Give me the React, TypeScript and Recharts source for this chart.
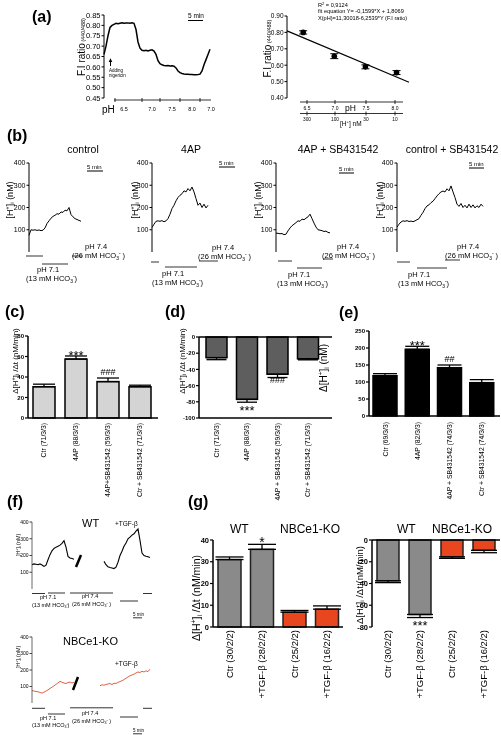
import React from 'react';
import { LineChart, Line, XAxis, YAxis, BarChart, Bar, ErrorBar, ComposedChart, Scatter, ReferenceLine } from 'recharts';

const FONT = '"Liberation Sans", Arial, Helvetica, sans-serif';

// ---------- (a) calibration ----------
const nigericinRatio = [0.66,0.70,0.75,0.79,0.80,0.805,0.81,0.808,0.81,0.812,0.81,0.811,0.812,0.81,0.812,0.81,0.78,0.72,0.69,0.68,0.678,0.68,0.677,0.68,0.682,0.676,0.66,0.63,0.615,0.61,0.607,0.605,0.606,0.604,0.605,0.603,0.595,0.58,0.572,0.568,0.566,0.565,0.564,0.563,0.563,0.562,0.562,0.563,0.565,0.58,0.61,0.635,0.66,0.685];
const ratioTicks = [0.45,0.5,0.55,0.6,0.65,0.7,0.75,0.8,0.85];
const calibPH = [6.5, 7.0, 7.5, 8.0];
const calibRatio = [0.80, 0.655, 0.59, 0.555];
const calibErr = [0.01, 0.015, 0.012, 0.012];
const fitPH = [6.24, 8.2];
const fitRatio = [0.809, 0.496];
const calibTicks = [0.4,0.5,0.6,0.7,0.8,0.9];
const phSegLabels = ['6.5','7.0','7.5','8.0','7.0'];
const phAxisLabels = ['6.5','7.0','7.5','8.0'];
const hAxisLabels = ['300','100','30','10'];

// ---------- (b) traces [H+]i (nM) ----------
const ctrlTrace = [75,100,98,100,97,99,96,98,108,128,140,152,160,165,172,170,180,178,188,185,200,168,158,150,146,142,138];
const apTrace = [110,125,138,140,138,141,136,140,150,170,195,210,230,245,255,262,275,270,285,275,292,270,240,210,220,200,215,198,210];
const apSbTrace = [85,84,82,83,78,80,95,108,118,125,132,140,138,148,145,152,158,170,150,130,112,100,98,96,92,94,88,86];
const ctrlSbTrace = [112,125,135,140,138,141,137,139,136,140,145,150,165,178,195,207,212,222,228,240,252,262,270,274,270,284,275,297,270,245,215,205,218,200,210,198,215,200,212,198,208,200,215,205];
const hTicks = [100,200,300,400];
const bTitles = ['control','4AP','4AP + SB431542','control + SB431542'];

// ---------- (c) (d) (e) ----------
const cLabels = ['Ctr (71/3/3)','4AP (88/3/3)','4AP+SB431542 (59/3/3)','Ctr + SB431542 (71/3/3)'];
const cRate = [30.5, 57.5, 35.5, 30.5];
const cErr = [2.5, 3, 3.5, 1.5];
const cSig = ['', '***', '###', ''];
const dLabels = ['Ctr (71/3/3)','4AP (88/3/3)','4AP + SB431542 (59/3/3)','Ctr + SB431542 (71/3/3)'];
const dRate = [-25.5, -77, -46, -27];
const dErr = [2.5, 3.5, 4, 1.2];
const dSig = ['', '***', '###', ''];
const eLabels = ['Ctr (69/3/3)','4AP (82/3/3)','4AP + SB431542 (74/3/3)','Ctr + SB431542 (74/3/3)'];
const eAmp = [118.5, 196, 142, 98];
const eErr = [6, 9, 8, 9];
const eSig = ['', '***', '##', ''];

// ---------- (f) ----------
const wtTrace: (number | null)[] = [145,150,148,145,150,143,135,142,175,205,228,242,250,255,262,272,288,250,195,185,182,178,
  null,null,null,null,null,null,null,null,null,null,null,null,null,null,
  165,145,132,128,125,122,130,160,200,225,255,275,300,310,322,330,345,358,290,215,200,195,192,188];
const koTrace: (number | null)[] = [76,72,70,68,64,60,66,72,80,88,96,104,113,122,131,126,121,118,124,127,121,125,
  null,null,null,null,null,null,null,null,null,null,null,null,
  105,110,108,112,115,118,112,120,118,125,130,135,142,150,158,165,170,175,182,188,185,192,188,195,190,205];

// ---------- (g) ----------
const gLabels = ['Ctr (30/2/2)','+TGF-β (28/2/2)','Ctr (25/2/2)','+TGF-β (16/2/2)'];
const gAcid = [31, 35.7, 6.8, 8.2];
const gAcidErr = [1.2, 2.3, 0.8, 1.5];
const gAcidSig = ['', '*', '', ''];
const gRecov = [-37.5, -68.5, -15.5, -9.5];
const gRecovErr = [1.7, 2.8, 1.4, 2.2];
const gRecovSig = ['', '***', '', ''];

type Geo = { left: number; top: number; w: number; h: number };
const LAYER: React.CSSProperties = { willChange: 'transform' };

function TraceChart(props: { values: (number | null)[]; geo: Geo; domain: [number, number]; ticks: number[]; tickFont: number; yW: number; stroke: string; strokeWidth: number; axisColor: string; fmt?: (v: number) => string; axisW?: number }) {
  const { values, geo, domain, ticks, tickFont, yW, stroke, strokeWidth, axisColor, fmt } = props;
  const data = values.map((v, i) => ({ t: i, v }));
  const mt = 5, mb = 6, mr = 3;
  return (
    <div style={{ position: 'absolute', left: geo.left - yW, top: geo.top - mt, ...LAYER }}>
      <LineChart width={yW + geo.w + mr} height={mt + geo.h + mb} data={data} margin={{ top: mt, right: mr, bottom: mb, left: 0 }}>
        <XAxis type="number" dataKey="t" domain={[0, values.length - 1]} hide />
        <YAxis type="number" domain={domain} ticks={ticks} width={yW} interval={0}
          tickFormatter={fmt ? (v: number) => fmt(v) : undefined}
          tick={{ fontSize: tickFont, fill: '#000' }} tickSize={2.5} tickMargin={1}
          axisLine={{ stroke: axisColor, strokeWidth: props.axisW ?? 1 }} tickLine={{ stroke: axisColor }} />
        <Line type="linear" dataKey="v" stroke={stroke} strokeWidth={strokeWidth} dot={false} isAnimationActive={false} connectNulls={false} />
      </LineChart>
    </div>
  );
}

type BarPanelProps = {
  geo: Geo; labels: string[]; values: number[]; errs: number[]; sig: string[]; sigOff: number[]; sigFont: number[];
  domain: [number, number]; ticks: number[]; fills: string[]; stroke: string; yW: number; padLeft: number; padRight: number;
  tickFont: number; labelFont: number; labelGap: number; xLine: boolean; zeroLine: boolean; barSize: number; capW: number;
};

function BarPanel(p: BarPanelProps) {
  const mt = 12, mr = 1, xH = 100;
  const data = p.labels.map((name, i) => ({ name, v: p.values[i], e: p.values[i] >= 0 ? [0, p.errs[i]] : [p.errs[i], 0] }));
  const toY = (val: number) => mt + ((p.domain[1] - val) / (p.domain[1] - p.domain[0])) * p.geo.h;
  const shape = (s: any) => {
    const i = typeof s.index === 'number' ? s.index : p.labels.indexOf(s.payload?.name ?? s.name);
    const y0 = Math.min(s.y, s.y + s.height);
    const hh = Math.abs(s.height);
    const v = p.values[i];
    const end = v >= 0 ? v + p.errs[i] : v - p.errs[i];
    return (
      <g>
        <rect x={s.x} y={y0} width={s.width} height={hh} fill={p.fills[i]} stroke={p.stroke} strokeWidth={1.5} />
        {p.sig[i] ? (
          <text x={s.x + s.width / 2} y={toY(end) + p.sigOff[i]} textAnchor="middle" fontSize={p.sigFont[i]} fill="#000">{p.sig[i]}</text>
        ) : null}
      </g>
    );
  };
  const tick = (t: any) => (
    <text transform={`translate(${t.x + p.labelFont * 0.36},${mt + p.geo.h + p.labelGap}) rotate(-90)`} textAnchor="end" fontSize={p.labelFont} fill="#000">
      {t.payload.value}
    </text>
  );
  return (
    <div style={{ position: 'absolute', left: p.geo.left - p.yW, top: p.geo.top - mt, ...LAYER }}>
      <BarChart width={p.yW + p.geo.w + mr} height={mt + p.geo.h + xH} data={data} margin={{ top: mt, right: mr, bottom: 0, left: 0 }}>
        <XAxis dataKey="name" interval={0} tickLine={false} height={xH} tick={tick}
          axisLine={p.xLine ? { stroke: '#000', strokeWidth: 1.5 } : false} padding={{ left: p.padLeft, right: p.padRight }} />
        <YAxis type="number" domain={p.domain} ticks={p.ticks} width={p.yW} interval={0}
          tick={{ fontSize: p.tickFont, fontWeight: 700, fill: '#000' }} tickSize={3} tickMargin={1}
          axisLine={{ stroke: '#000', strokeWidth: 1.5 }} tickLine={{ stroke: '#000', strokeWidth: 1.2 }} />
        {p.zeroLine ? <ReferenceLine y={0} stroke="#000" strokeWidth={1.5} /> : null}
        <Bar dataKey="v" barSize={p.barSize} shape={shape} isAnimationActive={false}>
          <ErrorBar dataKey="e" width={p.capW} stroke="#000" strokeWidth={1.3} direction="y" />
        </Bar>
      </BarChart>
    </div>
  );
}

function CalibChart() {
  const geo = { left: 287, top: 16, w: 122, h: 82 };
  const yW = 30, mt = 5, mr = 3, mb = 5;
  const pts = calibPH.map((x, i) => ({ x, y: calibRatio[i], e: calibErr[i] }));
  const fit = fitPH.map((x, i) => ({ x, y: fitRatio[i] }));
  return (
    <div style={{ position: 'absolute', left: geo.left - yW, top: geo.top - mt, ...LAYER }}>
      <ComposedChart width={yW + geo.w + mr} height={mt + geo.h + mb} margin={{ top: mt, right: mr, bottom: mb, left: 0 }}>
        <XAxis type="number" dataKey="x" domain={[6.24, 8.2]} hide />
        <YAxis type="number" dataKey="y" domain={[0.4, 0.9]} ticks={calibTicks} width={yW} interval={0}
          tickFormatter={(v: number) => v.toFixed(2)} tick={{ fontSize: 6.5, fill: '#000' }} tickSize={2.5} tickMargin={1}
          axisLine={{ stroke: '#000' }} tickLine={{ stroke: '#000' }} />
        <Line data={fit} dataKey="y" type="linear" stroke="#000" strokeWidth={1.2} dot={false} isAnimationActive={false} />
        <Scatter data={pts} dataKey="y" fill="#000" isAnimationActive={false}
          shape={(s: any) => <circle cx={s.cx} cy={s.cy} r={2.8} fill="#000" />}>
          <ErrorBar dataKey="e" direction="y" width={4} stroke="#000" strokeWidth={1} />
        </Scatter>
      </ComposedChart>
    </div>
  );
}

// ---------- overlay helpers ----------
function Tx(p: { x: number; y: number; s: number; a?: 'start' | 'middle' | 'end'; b?: boolean; rot?: boolean; fill?: string; children?: React.ReactNode }) {
  const common = { fontSize: p.s, fontWeight: p.b ? 700 : 400, textAnchor: p.a ?? 'start', fill: p.fill ?? '#000' } as any;
  if (p.rot) return <text transform={`translate(${p.x},${p.y}) rotate(-90)`} {...common}>{p.children}</text>;
  return <text x={p.x} y={p.y} {...common}>{p.children}</text>;
}
function Ln(p: { x1: number; y1: number; x2: number; y2: number; w?: number; c?: string }) {
  return <line x1={p.x1} y1={p.y1} x2={p.x2} y2={p.y2} stroke={p.c ?? '#000'} strokeWidth={p.w ?? 1} />;
}
function HPlus(s: number, rest: string, pre = '', sub = true) {
  return (
    <>
      <tspan>{pre}[H</tspan>
      <tspan fontSize={s * 0.65} dy={-s * 0.35}>+</tspan>
      <tspan dy={s * 0.35}>]</tspan>
      {sub ? <tspan fontSize={s * 0.65} dy={s * 0.2}>i</tspan> : null}
      <tspan dy={sub ? -s * 0.2 : 0}>{rest}</tspan>
    </>
  );
}
function Hco(p: { x: number; y: number; s: number; mm: string; trail: string }) {
  const s = p.s;
  return (
    <text x={p.x} y={p.y} fontSize={s} fill="#000">
      ({p.mm} mM HCO<tspan fontSize={s * 0.65} dy={s * 0.25}>3</tspan>
      <tspan fontSize={s * 0.65} dy={-s * 0.6}>-</tspan>
      <tspan dy={s * 0.35}>{p.trail})</tspan>
    </text>
  );
}

function BSegments(p: { s1: number[]; s2: number[]; s3: number[]; ph71: number[]; hco13: number[]; ph74: number[]; hco26: number[] }) {
  return (
    <g>
      <Ln x1={p.s1[0]} y1={p.s1[2]} x2={p.s1[1]} y2={p.s1[2]} c="#555" w={1.2} />
      <Ln x1={p.s2[0]} y1={p.s2[2]} x2={p.s2[1]} y2={p.s2[2]} c="#555" w={1.2} />
      <Ln x1={p.s3[0]} y1={p.s3[2]} x2={p.s3[1]} y2={p.s3[2]} c="#555" w={1.2} />
      <Tx x={p.ph71[0]} y={p.ph71[1]} s={7.5}>pH 7.1</Tx>
      <Hco x={p.hco13[0]} y={p.hco13[1]} s={7.5} mm="13" trail="" />
      <Tx x={p.ph74[0]} y={p.ph74[1]} s={7.5}>pH 7.4</Tx>
      <Hco x={p.hco26[0]} y={p.hco26[1]} s={7.5} mm="26" trail=" " />
    </g>
  );
}

function FSegments(p: { y0: number; ov: number; ph71y: number; hco13y: number; ph74y: number; hco26y: number; s3y: number; min5y: number }) {
  return (
    <g>
      <Ln x1={32} y1={p.y0} x2={45} y2={p.y0} c="#333" />
      <Ln x1={48} y1={p.ov} x2={65} y2={p.ov} c="#333" />
      <Ln x1={70} y1={p.y0 - 0.5} x2={113} y2={p.y0 - 0.5} c="#333" />
      <Ln x1={120} y1={p.s3y} x2={138} y2={p.s3y} c="#333" />
      <Ln x1={143} y1={p.y0} x2={152} y2={p.y0} c="#333" />
      <Tx x={40} y={p.ph71y} s={5.5}>pH 7.1</Tx>
      <Hco x={32} y={p.hco13y} s={5.5} mm="13" trail="" />
      <Tx x={82} y={p.ph74y} s={5.5}>pH 7.4</Tx>
      <Hco x={72} y={p.hco26y} s={5.5} mm="26" trail=" " />
      <Tx x={133} y={p.min5y} s={4.5}>5 min</Tx>
      <Ln x1={133} y1={p.min5y + 2.3} x2={142} y2={p.min5y + 2.3} w={0.8} />
    </g>
  );
}

function Overlay() {
  const phTickX = [115, 142, 160, 180, 200];
  const phLabX = [124, 152, 172, 192, 211];
  const calX = [307, 335, 366, 395];
  const titleX = [83, 191, 338, 452];
  const bYLabX = [12.5, 137.5, 260.5, 382.5];
  return (
    <svg width={501} height={735} style={{ position: 'absolute', left: 0, top: 0, pointerEvents: 'none', ...LAYER }} fontFamily={FONT}>
      {/* (a) */}
      <Tx x={32} y={22} s={16} b>(a)</Tx>
      <Tx x={84.5} y={47} s={10} a="middle" rot>F.I ratio<tspan fontSize={5.5}> (440/488)</tspan></Tx>
      <Tx x={188} y={17.5} s={6.5}>5 min</Tx>
      <Ln x1={188} y1={20.5} x2={203} y2={20.5} />
      <Ln x1={110.5} y1={66} x2={110.5} y2={61} />
      <polygon points="108.7,62 112.3,62 110.5,58.3" fill="#000" />
      <Tx x={109} y={72} s={4.5}>Adding</Tx>
      <Tx x={109} y={77} s={4.5}>nigericin</Tx>
      <Tx x={102} y={112.5} s={10}>pH</Tx>
      <Ln x1={114} y1={100} x2={211} y2={100} w={0.8} />
      {phTickX.map((x) => <Ln key={x} x1={x} y1={98} x2={x} y2={102} w={0.8} />)}
      {phSegLabels.map((l, i) => <Tx key={i} x={phLabX[i]} y={111} s={5.5} a="middle">{l}</Tx>)}

      <Tx x={270.5} y={48.5} s={10} a="middle" rot>F.I ratio<tspan fontSize={5.5}> (440/488)</tspan></Tx>
      <Tx x={318} y={6.5} s={5.6}>R<tspan fontSize={4} dy={-2}>2</tspan><tspan dy={2}> = 0,9124</tspan></Tx>
      <Tx x={318} y={13} s={5.6}>fit equation Y= -0,1599*X + 1,8069</Tx>
      <Tx x={318} y={19.5} s={5.6}>X(pH)=11,30018-6,2539*Y (F.I ratio)</Tx>
      <Ln x1={300} y1={102} x2={403} y2={102} w={0.8} />
      <Ln x1={300} y1={113.5} x2={403} y2={113.5} w={0.8} />
      {calX.map((x) => <Ln key={'a' + x} x1={x} y1={100} x2={x} y2={104} w={0.8} />)}
      {calX.map((x) => <Ln key={'b' + x} x1={x} y1={111.5} x2={x} y2={115.5} w={0.8} />)}
      {phAxisLabels.map((l, i) => <Tx key={'p' + i} x={calX[i]} y={110} s={5} a="middle">{l}</Tx>)}
      {hAxisLabels.map((l, i) => <Tx key={'h' + i} x={calX[i]} y={120.5} s={4.8} a="middle">{l}</Tx>)}
      <Tx x={345} y={111} s={8.5}>pH</Tx>
      <Tx x={340} y={125.5} s={6.5}>{HPlus(6.5, ' nM', '', false)}</Tx>

      {/* (b) */}
      <Tx x={7} y={141} s={16} b>(b)</Tx>
      {bTitles.map((t, i) => <Tx key={t} x={titleX[i]} y={153} s={10.5} a="middle">{t}</Tx>)}
      {bYLabX.map((x) => <Tx key={'yl' + x} x={x} y={200} s={9} a="middle" rot>{HPlus(9, ' (nM)')}</Tx>)}
      <Tx x={87} y={168.5} s={6}>5 min</Tx><Ln x1={87} y1={171} x2={103} y2={171} />
      <Tx x={219} y={164.5} s={6}>5 min</Tx><Ln x1={219} y1={167} x2={235} y2={167} />
      <Tx x={339} y={170.5} s={6}>5 min</Tx><Ln x1={339} y1={173} x2={354} y2={173} />
      <Tx x={469} y={165.5} s={6}>5 min</Tx><Ln x1={469} y1={168} x2={484} y2={168} />
      <BSegments s1={[26, 43, 256]} s2={[42, 68, 264]} s3={[72, 82, 256]} ph71={[37, 272]} hco13={[26, 281]} ph74={[85, 249]} hco26={[72, 258]} />
      <BSegments s1={[151, 159, 262]} s2={[165, 197, 267]} s3={[199, 218, 261]} ph71={[162, 276]} hco13={[152, 285]} ph74={[212, 250]} hco26={[198, 259]} />
      <BSegments s1={[278, 292, 261]} s2={[297, 322, 268]} s3={[323, 333, 259]} ph71={[288, 277]} hco13={[277, 286]} ph74={[337, 249]} hco26={[322, 258]} />
      <BSegments s1={[397, 410, 262]} s2={[417, 447, 268]} s3={[445, 460, 260]} ph71={[408, 277]} hco13={[398, 286]} ph74={[457, 249]} hco26={[445, 258]} />

      {/* (c)(d)(e) */}
      <Tx x={5} y={317} s={16} b>(c)</Tx>
      <Tx x={165} y={317} s={16} b>(d)</Tx>
      <Tx x={339} y={318} s={16} b>(e)</Tx>
      <Tx x={17.5} y={361} s={8} a="middle" rot>{HPlus(8, ' /Δt (nM/min)', 'Δ')}</Tx>
      <Tx x={184.5} y={361} s={8} a="middle" rot>{HPlus(8, ' /Δt (nM/min)', 'Δ')}</Tx>
      <Tx x={326.5} y={368} s={10} a="middle" rot>{HPlus(10, ' (nM)', 'Δ')}</Tx>

      {/* (f) */}
      <Tx x={7} y={507} s={16} b>(f)</Tx>
      <Tx x={82} y={527} s={11}>WT</Tx>
      <Tx x={115} y={526} s={6.5}>+TGF-β</Tx>
      <Tx x={19.5} y={545} s={5.5} a="middle" rot>{HPlus(5.5, ' (nM)')}</Tx>
      <Ln x1={76} y1={567} x2={81} y2={555} w={2.5} />
      <FSegments y0={593.5} ov={593} ph71y={599} hco13y={607} ph74y={598} hco26y={605.5} s3y={601} min5y={615.5} />
      <Tx x={63} y={645} s={11}>NBCe1-KO</Tx>
      <Tx x={115} y={666} s={6.5}>+TGF-β</Tx>
      <Tx x={19.5} y={657} s={5.5} a="middle" rot>{HPlus(5.5, ' (nM)')}</Tx>
      <Ln x1={73} y1={690} x2={78} y2={677} w={2.5} />
      <FSegments y0={708.3} ov={714} ph71y={720} hco13y={727} ph74y={714.5} hco26y={722.5} s3y={717} min5y={731.5} />

      {/* (g) */}
      <Tx x={188} y={507} s={16} b>(g)</Tx>
      <Tx x={230} y={533} s={12}>WT</Tx>
      <Tx x={280} y={533} s={12}>NBCe1-KO</Tx>
      <Tx x={397} y={533} s={12}>WT</Tx>
      <Tx x={432} y={533} s={12}>NBCe1-KO</Tx>
      <Tx x={200} y={598} s={10.5} a="middle" rot>{HPlus(10.5, ' /Δt (nM/min)', 'Δ')}</Tx>
      <Tx x={362.5} y={585} s={9.5} a="middle" rot>{HPlus(9.5, ' /Δt (nM/min)', 'Δ')}</Tx>
    </svg>
  );
}

export default function App() {
  const red = '#e8461e';
  const grey = '#8a8a8a';
  return (
    <div style={{ position: 'absolute', left: 0, top: 0, width: 501, height: 735, background: '#fff', fontFamily: FONT, overflow: 'hidden' }}>
      {/* (a) */}
      <TraceChart values={nigericinRatio} geo={{ left: 104, top: 15, w: 106, h: 83 }} domain={[0.45, 0.85]} ticks={ratioTicks}
        tickFont={7.5} yW={30} stroke="#000" strokeWidth={1.5} axisColor="#000" fmt={(v) => v.toFixed(2)} />
      <CalibChart />

      {/* (b) */}
      <TraceChart values={ctrlTrace} geo={{ left: 29, top: 163, w: 52, h: 89 }} domain={[0, 400]} ticks={hTicks} tickFont={7} yW={26} stroke="#000" strokeWidth={1} axisColor="#000" />
      <TraceChart values={apTrace} geo={{ left: 152, top: 163, w: 56, h: 89 }} domain={[0, 400]} ticks={hTicks} tickFont={7} yW={26} stroke="#000" strokeWidth={1} axisColor="#000" />
      <TraceChart values={apSbTrace} geo={{ left: 276, top: 163, w: 54, h: 89 }} domain={[0, 400]} ticks={hTicks} tickFont={7} yW={26} stroke="#000" strokeWidth={1} axisColor="#000" />
      <TraceChart values={ctrlSbTrace} geo={{ left: 397, top: 163, w: 86, h: 89 }} domain={[0, 400]} ticks={hTicks} tickFont={7} yW={26} stroke="#000" strokeWidth={1} axisColor="#000" />

      {/* (c) */}
      <BarPanel geo={{ left: 28, top: 336, w: 130, h: 82 }} labels={cLabels} values={cRate} errs={cErr} sig={cSig} sigOff={[0, 4, -3, 0]} sigFont={[13, 13, 9, 13]}
        domain={[0, 80]} ticks={[0, 20, 40, 60, 80]} fills={['#d4d4d4', '#d4d4d4', '#d4d4d4', '#d4d4d4']} stroke="#000" yW={24} padLeft={0} padRight={2}
        tickFont={6} labelFont={6.8} labelGap={5} xLine zeroLine={false} barSize={22} capW={11} />
      {/* (d) */}
      <BarPanel geo={{ left: 199, top: 337, w: 133, h: 81 }} labels={dLabels} values={dRate} errs={dErr} sig={dSig} sigOff={[0, 12.4, 5.4, 0]} sigFont={[13, 13, 9, 13]}
        domain={[-100, 0]} ticks={[-100, -80, -60, -40, -20, 0]} fills={['#5e5e5e', '#5e5e5e', '#5e5e5e', '#5e5e5e']} stroke="#000" yW={26} padLeft={2} padRight={9}
        tickFont={6} labelFont={6.8} labelGap={5} xLine zeroLine barSize={21} capW={10} />
      {/* (e) */}
      <BarPanel geo={{ left: 369, top: 331, w: 131, h: 85 }} labels={eLabels} values={eAmp} errs={eErr} sig={eSig} sigOff={[0, 3.5, -3, 0]} sigFont={[13, 13, 9, 13]}
        domain={[0, 250]} ticks={[0, 50, 100, 150, 200, 250]} fills={['#000', '#000', '#000', '#000']} stroke="#000" yW={28} padLeft={0} padRight={2}
        tickFont={6} labelFont={6.8} labelGap={6} xLine zeroLine={false} barSize={24} capW={12} />

      {/* (f) */}
      <TraceChart values={wtTrace} geo={{ left: 32, top: 522, w: 118, h: 67 }} domain={[0, 400]} ticks={hTicks} tickFont={5} yW={16} stroke="#000" strokeWidth={1.1} axisColor="#444" axisW={0.8} />
      <TraceChart values={koTrace} geo={{ left: 32, top: 637, w: 118, h: 66 }} domain={[0, 400]} ticks={hTicks} tickFont={5} yW={16} stroke="#e0502c" strokeWidth={0.9} axisColor="#444" axisW={0.8} />

      {/* (g) */}
      <BarPanel geo={{ left: 213, top: 540, w: 130, h: 87 }} labels={gLabels} values={gAcid} errs={gAcidErr} sig={gAcidSig} sigOff={[0, 3, 0, 0]} sigFont={[14, 14, 14, 14]}
        domain={[0, 40]} ticks={[0, 10, 20, 30, 40]} fills={[grey, grey, red, red]} stroke="#222" yW={22} padLeft={0} padRight={0}
        tickFont={7.5} labelFont={9.5} labelGap={3} xLine zeroLine={false} barSize={23} capW={14} />
      <BarPanel geo={{ left: 372, top: 540, w: 128, h: 87 }} labels={gLabels} values={gRecov} errs={gRecovErr} sig={gRecovSig} sigOff={[0, 12.5, 0, 0]} sigFont={[13, 13, 13, 13]}
        domain={[-80, 0]} ticks={[-80, -60, -40, -20, 0]} fills={[grey, grey, red, red]} stroke="#222" yW={24} padLeft={0} padRight={0}
        tickFont={7.5} labelFont={9.5} labelGap={3} xLine={false} zeroLine barSize={22} capW={13} />

      <Overlay />
    </div>
  );
}
